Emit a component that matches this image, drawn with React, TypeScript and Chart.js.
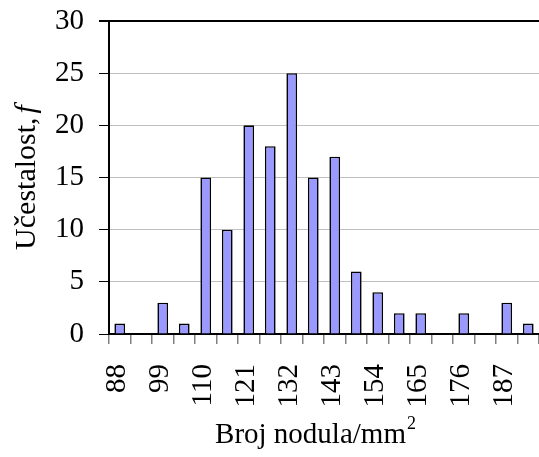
import React, { useEffect, useRef } from 'react';
import { Chart, registerables } from 'chart.js';

Chart.register(...registerables);

const categories = ['88', '93.5', '99', '104.5', '110', '115.5', '121', '126.5', '132', '137.5', '143', '148.5', '154', '159.5', '165', '170.5', '176', '181.5', '187', '192.5'];
const frequencies = [1, 0, 3, 1, 15, 10, 20, 18, 25, 15, 17, 6, 4, 2, 2, 0, 2, 0, 3, 1];
const tickLabels = ['88', '', '99', '', '110', '', '121', '', '132', '', '143', '', '154', '', '165', '', '176', '', '187', ''];
const yMin = 0;
const yMax = 30;
const yStep = 5;
const xTitle = 'Broj nodula/mm';
const xTitleSup = '2';
const yTitle = 'Učestalost,';
const yTitleItalic = 'f';

const FAMILY = "'Liberation Serif', 'Times New Roman', serif";
const TICK_FS = 29;
const XTITLE_FS = 29;
const YTITLE_FS = 30;
const SUP_FS = 18;

const titlesPlugin = {
  id: 'customAxisTitles',
  afterDraw(chart: any) {
    const ctx = chart.ctx as CanvasRenderingContext2D;
    const a = chart.chartArea;
    ctx.save();
    ctx.fillStyle = '#000';
    ctx.textAlign = 'left';
    ctx.textBaseline = 'alphabetic';

    // X title with superscript
    ctx.font = `${XTITLE_FS}px ${FAMILY}`;
    const w1 = ctx.measureText(xTitle).width;
    ctx.font = `${SUP_FS}px ${FAMILY}`;
    const w2 = ctx.measureText(xTitleSup).width;
    const cx = (a.left + a.right) / 2 - 9;
    const x0 = cx - (w1 + w2) / 2;
    const baseY = 443;
    ctx.font = `${XTITLE_FS}px ${FAMILY}`;
    ctx.fillText(xTitle, x0, baseY);
    ctx.font = `${SUP_FS}px ${FAMILY}`;
    ctx.fillText(xTitleSup, x0 + w1 + 1, baseY - 14);

    // Y title rotated, with italic f
    ctx.font = `${YTITLE_FS}px ${FAMILY}`;
    const t1 = ctx.measureText(yTitle).width;
    ctx.font = `italic ${YTITLE_FS}px ${FAMILY}`;
    const t2 = ctx.measureText(yTitleItalic).width;
    const gap = 4;
    const total = t1 + gap + t2;
    ctx.translate(35, (a.top + a.bottom) / 2);
    ctx.rotate(-Math.PI / 2);
    ctx.font = `${YTITLE_FS}px ${FAMILY}`;
    ctx.fillText(yTitle, -total / 2, 0);
    ctx.font = `italic ${YTITLE_FS}px ${FAMILY}`;
    ctx.fillText(yTitleItalic, -total / 2 + t1 + gap, 0);
    ctx.restore();
  },
};

export default function App() {
  const ref = useRef<HTMLCanvasElement | null>(null);

  useEffect(() => {
    if (!ref.current) return;
    const chart = new Chart(ref.current, {
      type: 'bar',
      data: {
        labels: categories,
        datasets: [
          {
            data: frequencies,
            backgroundColor: '#9999ff',
            borderColor: '#000000',
            borderWidth: 1.6,
            barPercentage: 0.5,
            categoryPercentage: 1,
          },
        ],
      },
      options: {
        responsive: false,
        animation: false,
        devicePixelRatio: 1,
        layout: { padding: { top: 21, left: 0, right: 0, bottom: 0 } },
        plugins: {
          legend: { display: false },
          tooltip: { enabled: false },
          title: { display: false },
        },
        scales: {
          x: {
            offset: true,
            grid: {
              offset: true,
              drawOnChartArea: false,
              drawTicks: true,
              tickLength: 10,
              tickColor: '#808080',
              lineWidth: 1.5,
            },
            border: { display: true, color: '#000', width: 2 },
            ticks: {
              autoSkip: false,
              minRotation: 90,
              maxRotation: 90,
              padding: 20,
              labelOffset: -2,
              color: '#000',
              font: { family: FAMILY, size: TICK_FS },
              callback: (_v: any, i: number) => tickLabels[i],
            },
            afterFit: (scale: any) => {
              scale.height = 123;
              scale.paddingLeft = 0;
              scale.paddingRight = 0;
            },
          },
          y: {
            min: yMin,
            max: yMax,
            grid: {
              color: (c: any) => (c.tick && c.tick.value === yMax ? '#000' : '#c0c0c0'),
              lineWidth: (c: any) => (c.tick && c.tick.value === yMax ? 2 : 1),
              drawTicks: true,
              tickLength: 10,
              tickColor: '#000',
            },
            border: { display: true, color: '#000', width: 2 },
            ticks: {
              stepSize: yStep,
              padding: 15,
              color: '#000',
              font: { family: FAMILY, size: TICK_FS },
            },
            afterFit: (scale: any) => {
              scale.width = 109;
              scale.paddingTop = 0;
              scale.paddingBottom = 0;
            },
          },
        },
      },
      plugins: [titlesPlugin],
    });
    return () => chart.destroy();
  }, []);

  return (
    <div style={{ position: 'absolute', left: 0, top: 0, width: 539, height: 457, background: '#fff' }}>
      <canvas ref={ref} width={539} height={457} />
    </div>
  );
}
